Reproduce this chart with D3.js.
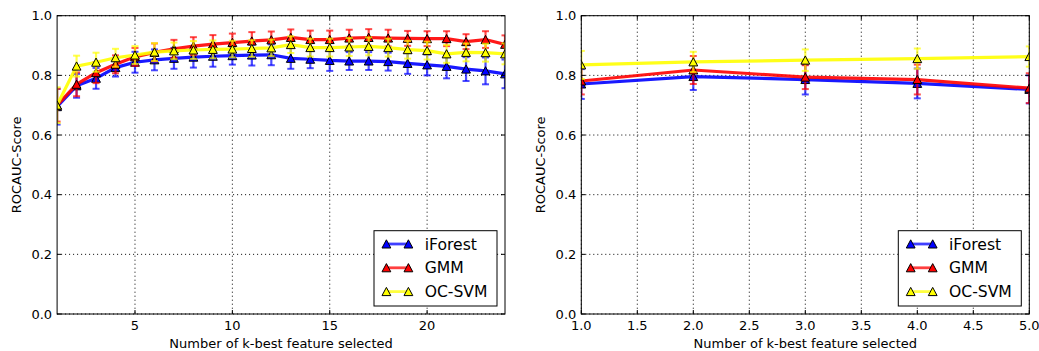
<!DOCTYPE html>
<html>
<head>
<meta charset="utf-8">
<script src="https://cdn.jsdelivr.net/npm/d3@7"></script>
<style>
  body { margin: 0; background: #fff; }
  svg { font-family: "DejaVu Sans", sans-serif; }
</style>
</head>
<body>
<div id="chart"></div>
<script>
// left panel: k = 1..24
const leftK = [1, 2, 3, 4, 5, 6, 7, 8, 9, 10, 11, 12, 13, 14, 15, 16, 17, 18, 19, 20, 21, 22, 23, 24];
const leftIForest = [0.695, 0.765, 0.790, 0.826, 0.844, 0.852, 0.857, 0.861, 0.864, 0.866, 0.868, 0.869, 0.857, 0.854, 0.850, 0.848, 0.848, 0.846, 0.840, 0.835, 0.830, 0.821, 0.815, 0.805];
const leftIForestErr = [0.06, 0.04, 0.035, 0.03, 0.035, 0.035, 0.035, 0.035, 0.035, 0.03, 0.035, 0.035, 0.035, 0.03, 0.035, 0.03, 0.03, 0.03, 0.035, 0.035, 0.04, 0.04, 0.045, 0.048];
const leftGMM = [0.700, 0.770, 0.809, 0.837, 0.862, 0.877, 0.889, 0.898, 0.905, 0.910, 0.915, 0.919, 0.927, 0.920, 0.920, 0.925, 0.927, 0.925, 0.924, 0.923, 0.923, 0.913, 0.920, 0.904];
const leftGMMErr = [0.055, 0.04, 0.035, 0.03, 0.03, 0.03, 0.03, 0.03, 0.03, 0.03, 0.03, 0.028, 0.027, 0.03, 0.03, 0.028, 0.028, 0.028, 0.025, 0.025, 0.025, 0.025, 0.028, 0.03];
const leftOCSVM = [0.700, 0.831, 0.844, 0.859, 0.868, 0.878, 0.882, 0.885, 0.887, 0.888, 0.890, 0.892, 0.903, 0.893, 0.893, 0.895, 0.897, 0.893, 0.886, 0.883, 0.872, 0.877, 0.876, 0.872];
const leftOCSVMErr = [0.06, 0.035, 0.032, 0.03, 0.03, 0.03, 0.028, 0.03, 0.03, 0.028, 0.028, 0.028, 0.028, 0.03, 0.03, 0.03, 0.03, 0.03, 0.03, 0.03, 0.03, 0.03, 0.03, 0.035];

// right panel: k = 1..5
const rightK = [1, 2, 3, 4, 5];
const rightIForest = [0.771, 0.796, 0.786, 0.773, 0.753];
const rightIForestErr = [0.05, 0.045, 0.05, 0.05, 0.047];
const rightGMM = [0.781, 0.818, 0.794, 0.786, 0.757];
const rightGMMErr = [0.045, 0.047, 0.04, 0.05, 0.05];
const rightOCSVM = [0.835, 0.845, 0.851, 0.856, 0.863];
const rightOCSVMErr = [0.047, 0.034, 0.036, 0.034, 0.034];

const leftXTicks = [5, 10, 15, 20];
const rightXTicks = [1.0, 1.5, 2.0, 2.5, 3.0, 3.5, 4.0, 4.5, 5.0];
const yTicks = [0.0, 0.2, 0.4, 0.6, 0.8, 1.0];
const seriesNames = ['iForest', 'GMM', 'OC-SVM'];
const seriesColors = ['#0000ff', '#ff0000', '#ffff00'];

var svg = d3.select('#chart').append('svg')
  .attr('width', 1039)
  .attr('height', 351);

svg.append('rect').attr('width', 1039).attr('height', 351).attr('fill', '#fff');

function drawPanel(id, left, right, xDomain, xTicks, fmt, ks, series) {
  var top = 15.7, bottom = 314;
  var x = d3.scaleLinear().domain(xDomain).range([left, right]);
  var y = d3.scaleLinear().domain([0, 1]).range([bottom, top]);
  var g = svg.append('g');

  svg.append('clipPath').attr('id', 'clip' + id)
    .append('rect')
    .attr('x', left).attr('y', top)
    .attr('width', right - left).attr('height', bottom - top);

  // grid
  g.selectAll('.vgrid').data(xTicks).enter().append('line')
    .attr('x1', d => x(d)).attr('x2', d => x(d))
    .attr('y1', top).attr('y2', bottom)
    .attr('stroke', '#000').attr('stroke-width', 1)
    .attr('stroke-dasharray', '1,3');
  g.selectAll('.hgrid').data(yTicks).enter().append('line')
    .attr('x1', left).attr('x2', right)
    .attr('y1', d => y(d)).attr('y2', d => y(d))
    .attr('stroke', '#000').attr('stroke-width', 1)
    .attr('stroke-dasharray', '1,3');

  var plot = g.append('g').attr('clip-path', 'url(#clip' + id + ')');

  var line = d3.line()
    .x(d => x(d.k))
    .y(d => y(d.v));

  var tri = 'M0,-4.2L-4.4,4L4.4,4Z';

  series.forEach(function (s, i) {
    var color = seriesColors[i];
    var pts = ks.map((k, j) => ({ k: k, v: s.values[j], e: s.errs[j] }));
    var sg = plot.append('g');

    // error bars
    sg.selectAll('.bar').data(pts).enter().append('line')
      .attr('x1', d => x(d.k)).attr('x2', d => x(d.k))
      .attr('y1', d => y(d.v - d.e)).attr('y2', d => y(d.v + d.e))
      .attr('stroke', color).attr('stroke-width', 2.2).attr('opacity', 0.7);
    sg.selectAll('.capLo').data(pts).enter().append('line')
      .attr('x1', d => x(d.k) - 3.5).attr('x2', d => x(d.k) + 3.5)
      .attr('y1', d => y(d.v - d.e)).attr('y2', d => y(d.v - d.e))
      .attr('stroke', color).attr('stroke-width', 2).attr('opacity', 0.7);
    sg.selectAll('.capHi').data(pts).enter().append('line')
      .attr('x1', d => x(d.k) - 3.5).attr('x2', d => x(d.k) + 3.5)
      .attr('y1', d => y(d.v + d.e)).attr('y2', d => y(d.v + d.e))
      .attr('stroke', color).attr('stroke-width', 2).attr('opacity', 0.7);

    sg.append('path')
      .attr('d', line(pts))
      .attr('fill', 'none')
      .attr('stroke', color)
      .attr('stroke-width', 3.2)
      .attr('opacity', 0.9);

    sg.selectAll('.mark').data(pts).enter().append('path')
      .attr('d', tri)
      .attr('transform', d => 'translate(' + x(d.k) + ',' + y(d.v) + ')')
      .attr('fill', color)
      .attr('stroke', '#000')
      .attr('stroke-width', 1);
  });

  // frame
  g.append('rect')
    .attr('x', left).attr('y', top)
    .attr('width', right - left).attr('height', bottom - top)
    .attr('fill', 'none').attr('stroke', '#000').attr('stroke-width', 1);

  // inward ticks on all sides
  xTicks.forEach(function (t) {
    g.append('line').attr('x1', x(t)).attr('x2', x(t)).attr('y1', bottom).attr('y2', bottom - 4).attr('stroke', '#000');
    g.append('line').attr('x1', x(t)).attr('x2', x(t)).attr('y1', top).attr('y2', top + 4).attr('stroke', '#000');
    g.append('text')
      .attr('x', x(t)).attr('y', 329.5)
      .attr('text-anchor', 'middle')
      .style('font-size', '13px')
      .text(fmt(t));
  });
  yTicks.forEach(function (t) {
    g.append('line').attr('x1', left).attr('x2', left + 4).attr('y1', y(t)).attr('y2', y(t)).attr('stroke', '#000');
    g.append('line').attr('x1', right).attr('x2', right - 4).attr('y1', y(t)).attr('y2', y(t)).attr('stroke', '#000');
    g.append('text')
      .attr('x', left - 5).attr('y', y(t))
      .attr('dy', '0.36em')
      .attr('text-anchor', 'end')
      .style('font-size', '13px')
      .text(t.toFixed(1));
  });

  // axis labels
  g.append('text')
    .attr('x', (left + right) / 2).attr('y', 348)
    .attr('text-anchor', 'middle')
    .style('font-size', '13px')
    .text('Number of k-best feature selected');
  g.append('text')
    .attr('transform', 'translate(' + (left - 36) + ',' + ((top + bottom) / 2) + ') rotate(-90)')
    .attr('text-anchor', 'middle')
    .style('font-size', '13px')
    .text('ROCAUC-Score');

  // legend
  var lx = right - 8 - 123, ly = 230.7;
  var leg = g.append('g');
  leg.append('rect')
    .attr('x', lx).attr('y', ly).attr('width', 123).attr('height', 75.3)
    .attr('fill', '#fff').attr('stroke', '#000').attr('stroke-width', 1);
  seriesNames.forEach(function (name, i) {
    var ry = ly + 13.3 + i * 23.8;
    leg.append('line')
      .attr('x1', lx + 12.4).attr('x2', lx + 34.4)
      .attr('y1', ry).attr('y2', ry)
      .attr('stroke', seriesColors[i]).attr('stroke-width', 2.8).attr('opacity', 0.75);
    [lx + 12.4, lx + 34.4].forEach(function (mx) {
      leg.append('path')
        .attr('d', tri)
        .attr('transform', 'translate(' + mx + ',' + ry + ')')
        .attr('fill', seriesColors[i]).attr('stroke', '#000').attr('stroke-width', 1);
    });
    leg.append('text')
      .attr('x', lx + 50.7).attr('y', ry)
      .attr('dy', '0.36em')
      .style('font-size', '15.6px')
      .text(name);
  });
}

drawPanel('L', 57.1, 505, [1, 24], leftXTicks, d => String(d), leftK, [
  { values: leftIForest, errs: leftIForestErr },
  { values: leftGMM, errs: leftGMMErr },
  { values: leftOCSVM, errs: leftOCSVMErr }
]);

drawPanel('R', 581.3, 1029.3, [1, 5], rightXTicks, d => d.toFixed(1), rightK, [
  { values: rightIForest, errs: rightIForestErr },
  { values: rightGMM, errs: rightGMMErr },
  { values: rightOCSVM, errs: rightOCSVMErr }
]);
</script>
</body>
</html>
